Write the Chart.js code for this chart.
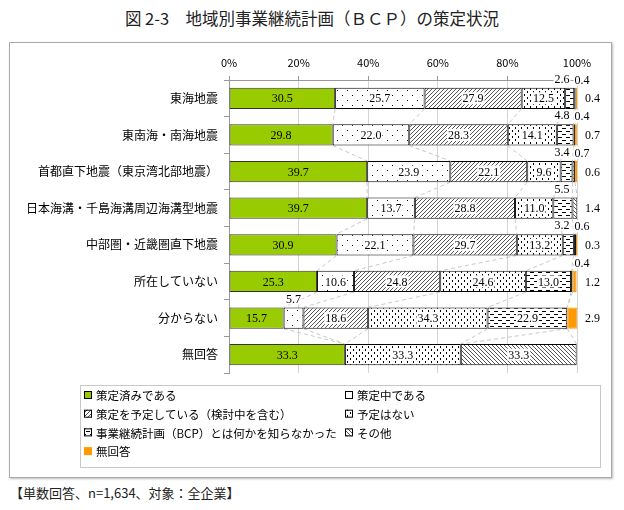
<!DOCTYPE html>
<html><head><meta charset="utf-8">
<script src="https://cdn.jsdelivr.net/npm/chart.js@4.4.1/dist/chart.umd.min.js"></script>
<style>
html,body{margin:0;padding:0;background:#fff;width:624px;height:510px;overflow:hidden;font-family:"Noto Sans CJK JP",sans-serif;}
#title{position:absolute;left:0;top:6px;width:624px;text-align:center;font-size:16.5px;line-height:24px;color:#222;}
#frame{position:absolute;left:9px;top:42px;width:601px;height:434px;border:1px solid #aaa;box-shadow:1px 1px 2px #bbb;}
#note{position:absolute;left:10px;top:483px;font-size:13px;line-height:20px;color:#222;}
canvas{display:block;}
</style></head>
<body>
<div id="title">図 2-3　地域別事業継続計画（ＢＣＰ）の策定状況</div>
<div id="frame"><canvas id="c" width="601" height="434"></canvas></div>
<div id="note">【単数回答、n=1,634、対象：全企業】</div>
<script>
const categories = ['東海地震','東南海・南海地震','首都直下地震（東京湾北部地震）','日本海溝・千島海溝周辺海溝型地震','中部圏・近畿圏直下地震','所在していない','分からない','無回答'];
const seriesNames = ['策定済みである','策定中である','策定を予定している（検討中を含む）','予定はない','事業継続計画（BCP）とは何かを知らなかった','その他','無回答'];
const formulated = [30.5,29.8,39.7,39.7,30.9,25.3,15.7,33.3];
const inProgress = [25.7,22.0,23.9,13.7,22.1,10.6,5.7,0];
const planned    = [27.9,28.3,22.1,28.8,29.7,24.8,18.6,0];
const noPlan     = [12.5,14.1,9.6,11.0,13.2,24.6,34.3,33.3];
const unaware    = [2.6,4.8,3.4,5.5,3.2,13.0,22.9,0];
const other      = [0.4,0.4,0.7,1.4,0.6,0.4,0,33.3];
const noAnswer   = [0.4,0.7,0.6,0,0.3,1.2,2.9,0];
const xTicks = [0,20,40,60,80,100];

function makePattern(type){
  const c=document.createElement('canvas');
  let w=4,h=4;
  if(type==='sparse'){w=10;h=10;}
  if(type==='vdash'){w=6;h=6;}
  if(type==='hdash'){w=8;h=6;}
  c.width=w;c.height=h;
  const g=c.getContext('2d');
  g.fillStyle='#fff';g.fillRect(0,0,w,h);
  g.fillStyle='#000';g.strokeStyle='#555';g.lineWidth=1;
  if(type==='sparse'){g.fillRect(2,2,1,1);g.fillRect(7,7,1,1);}
  else if(type==='vdash'){g.fillRect(1,0,1,2);g.fillRect(4,3,1,2);}
  else if(type==='hdash'){g.fillRect(0,1,4,1);g.fillRect(4,4,4,1);}
  else if(type==='fwd'){
    g.beginPath();g.moveTo(0,4);g.lineTo(4,0);g.moveTo(-1,1);g.lineTo(1,-1);g.moveTo(3,5);g.lineTo(5,3);g.stroke();
  } else if(type==='back'){
    g.beginPath();g.moveTo(0,0);g.lineTo(4,4);g.moveTo(-1,3);g.lineTo(1,5);g.moveTo(3,-1);g.lineTo(5,1);g.stroke();
  }
  return g.createPattern(c,'repeat');
}

const ctx0=document.getElementById('c').getContext('2d');
const fills=['#99CC00',makePattern('sparse'),makePattern('fwd'),makePattern('vdash'),makePattern('hdash'),makePattern('back'),'#FF9900'];
const values=[formulated,inProgress,planned,noPlan,unaware,other,noAnswer];
const borders=['#333','#000','#000','#000','#000','#000','#FF9900'];

const seriesLines={
  id:'seriesLines',
  beforeDatasetsDraw(chart){
    const ctx=chart.ctx, xs=chart.scales.x, ds=chart.data.datasets;
    const meta0=chart.getDatasetMeta(0).data;
    const n=chart.data.labels.length;
    ctx.save();ctx.strokeStyle='#c8c8c8';ctx.lineWidth=1;ctx.setLineDash([4,3]);
    for(let k=0;k<ds.length-1;k++){
      for(let j=0;j<n-1;j++){
        let a=0,b=0;
        for(let i=0;i<=k;i++){a+=ds[i].data[j];b+=ds[i].data[j+1];}
        const e1=meta0[j],e2=meta0[j+1];
        ctx.beginPath();
        ctx.moveTo(xs.getPixelForValue(a),e1.y+e1.height/2);
        ctx.lineTo(xs.getPixelForValue(b),e2.y-e2.height/2);
        ctx.stroke();
      }
    }
    ctx.restore();
  }
};

const segLabels={
  id:'segLabels',
  afterDatasetsDraw(chart){
    const ctx=chart.ctx, xs=chart.scales.x, ds=chart.data.datasets;
    const x100=xs.getPixelForValue(100);
    const n=chart.data.labels.length;
    ctx.save();
    ctx.font='12px "Liberation Serif", "DejaVu Serif", serif';
    ctx.textBaseline='middle';
    for(let j=0;j<n;j++){
      let last=-1; ds.forEach((d,i)=>{ if(d.data[j]>0) last=i; });
      ds.forEach((d,i)=>{
        const v=d.data[j]; if(!v) return;
        const el=chart.getDatasetMeta(i).data[j];
        const left=Math.min(el.x,el.base), right=Math.max(el.x,el.base);
        const cx=(left+right)/2, top=el.y-el.height/2;
        const txt=v.toFixed(1);
        const w=ctx.measureText(txt).width;
        let x,y,align='center',bg=false;
        if(v>=6){ x=cx; y=el.y; bg=i>0; }
        else if(i===last && i>=5){ x=x100+8; y=el.y; align='left'; }
        else {
          x=cx; if(i===5){ x=x100+5; } else if(i===4) x=Math.min(cx,x100-15);
          y=top-9+(i===5?1:0); bg=true;
        }
        if(bg){
          ctx.fillStyle='#fff';
          const bx= align==='left'? x-1 : x-w/2-1;
          ctx.fillRect(bx,y-6,w+2,12);
        }
        ctx.fillStyle='#000';ctx.textAlign=align;
        ctx.fillText(txt,x,y+1);
      });
    }
    ctx.restore();
  }
};

const boxLegend={
  id:'boxLegend',
  afterDraw(chart){
    const ctx=chart.ctx, ds=chart.data.datasets;
    const bx=70, by=chart.chartArea.bottom+12, bw=520, bh=82;
    ctx.save();
    ctx.strokeStyle='#c8c8c8';ctx.lineWidth=1;
    ctx.strokeRect(bx+0.5,by+0.5,bw,bh);
    ctx.font='11.5px "Noto Sans CJK JP", sans-serif';
    ctx.textBaseline='middle';ctx.textAlign='left';
    ds.forEach((d,i)=>{
      const col=i%2, row=Math.floor(i/2);
      const sx=bx+4+col*261, sy=by+10+row*18.7;
      ctx.fillStyle=d.backgroundColor;
      ctx.fillRect(sx,sy-4,8,8);
      if(i!==ds.length-1){ctx.strokeStyle='#000';ctx.strokeRect(sx+0.5,sy-3.5,7,7);}
      ctx.fillStyle='#000';
      ctx.fillText(d.label,sx+12,sy+1);
    });
    ctx.restore();
  }
};

new Chart(ctx0,{
  type:'bar',
  data:{
    labels:categories,
    datasets:values.map((v,i)=>({
      label:seriesNames[i], data:v, backgroundColor:fills[i],
      borderColor:borders[i], borderWidth:1, borderSkipped:false,
      barPercentage:0.58, categoryPercentage:1
    }))
  },
  options:{
    indexAxis:'y', responsive:false, animation:false,
    layout:{padding:{left:0,top:0,right:34,bottom:104}},
    plugins:{legend:{display:false},tooltip:{enabled:false},title:{display:false}},
    scales:{
      x:{
        position:'top', stacked:true, min:0, max:100,
        afterBuildTicks(s){ s.ticks=xTicks.map(v=>({value:v})); },
        afterFit(s){ s.height=37; },
        ticks:{callback:v=>v+'%', color:'#000', padding:7, maxRotation:0,
          font:{family:'"Noto Sans CJK JP", sans-serif', size:11}},
        grid:{color:'#d4d4d4', tickLength:4, tickColor:'#999'},
        border:{color:'#999'}
      },
      y:{
        stacked:true,
        afterFit(s){ s.width=219; },
        ticks:{color:'#000', padding:6, font:{family:'"Noto Sans CJK JP", sans-serif', size:12}},
        grid:{offset:true, drawOnChartArea:false, tickLength:5, color:'#999'},
        border:{color:'#999'}
      }
    }
  },
  plugins:[seriesLines,segLabels,boxLegend]
});
</script>
</body></html>
